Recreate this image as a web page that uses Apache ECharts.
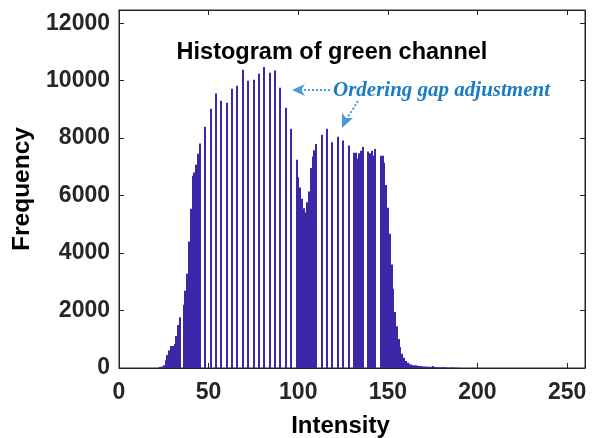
<!DOCTYPE html>
<html>
<head>
<meta charset="utf-8">
<script src="https://cdn.jsdelivr.net/npm/echarts@6/dist/echarts.min.js"></script>
<style>
html,body{margin:0;padding:0;background:#fff;}
#chart{width:595px;height:438px;}
</style>
</head>
<body>
<div id="chart"></div>
<script>
// Intensity values (bins) and their frequencies
const intensity = [];
for (let v = 20; v <= 190; v++) intensity.push(v);
const frequency = [
  0, 0, 15, 35, 50, 100, 270, 450, 610, 765,      // 20-29
  765, 835, 1110, 1500, 1770, 0, 2200, 2690, 3280, 4400, // 30-39
  5545, 6690, 6800, 7075, 7460, 7810, 0, 0, 8400, 0,   // 40-49
  0, 9025, 0, 0, 9550, 0, 0, 9300, 0, 0,               // 50-59
  9235, 0, 0, 9720, 0, 0, 9825, 0, 0, 10380,           // 60-69
  0, 0, 10000, 0, 0, 10035, 0, 0, 10240, 0,            // 70-79
  0, 10480, 0, 0, 10280, 0, 0, 10350, 0, 0,            // 80-89
  9750, 0, 0, 9055, 0, 0, 8330, 0, 0, 7250,            // 90-99
  6635, 6280, 5890, 5560, 5415, 5765, 6140, 6960, 7360, 7580, // 100-109
  7800, 0, 0, 8120, 0, 0, 8330, 0, 0, 7855,            // 110-119
  0, 0, 8050, 0, 0, 7915, 0, 0, 7740, 0,               // 120-129
  0, 7490, 7490, 7290, 7470, 7560, 7690, 0, 0, 7535,   // 130-139
  7475, 7560, 7390, 7625, 0, 0, 7390, 7390, 7140, 6370, // 140-149
  5575, 4670, 3600, 2755, 1950, 1450, 1010, 735, 500, 355, // 150-159
  240, 180, 145, 120, 100, 95, 90, 70, 70, 65,         // 160-169
  55, 50, 45, 45, 40, 70, 35, 30, 28, 26,              // 170-179
  25, 24, 22, 20, 20, 18, 18, 15, 12, 10,              // 180-189
  0                                                    // 190
];
const xTicks = [0, 50, 100, 150, 200, 250];
const yTicks = [0, 2000, 4000, 6000, 8000, 10000, 12000];
const titleText = 'Histogram of green channel';
const noteText = 'Ordering gap adjustment';

const seriesData = intensity.map((v, i) => [v, frequency[i]]);
const axisColor = '#262626';
const barColor = '#3E26A8';
const labelFont = { fontFamily: 'Liberation Sans', fontWeight: 'bold', fontSize: 23, color: axisColor };

const chart = echarts.init(document.getElementById('chart'), null, { renderer: 'canvas' });
chart.setOption({
  animation: false,
  backgroundColor: '#ffffff',
  grid: { left: 119, right: 10, top: 10, bottom: 70, containLabel: false, outerBoundsMode: 'none',
          show: true, borderColor: axisColor, borderWidth: 1, backgroundColor: 'transparent' },
  xAxis: [{
    type: 'value', min: 0, max: 260, interval: 50,
    name: 'Intensity', nameLocation: 'middle', nameGap: 46,
    nameTextStyle: { fontFamily: 'Liberation Sans', fontWeight: 'bold', fontSize: 24, color: '#000', padding: [0, 23, 0, 0] },
    axisLine: { show: true, onZero: false, lineStyle: { color: axisColor, width: 1 } },
    axisTick: { show: true, inside: true, length: 5, lineStyle: { color: axisColor } },
    axisLabel: Object.assign({ margin: 13, showMaxLabel: false,
      formatter: v => xTicks.includes(v) ? String(v) : '' }, labelFont),
    splitLine: { show: false }
  }, {
    type: 'value', min: 0, max: 260, interval: 50, position: 'top',
    axisLine: { show: true, onZero: false, lineStyle: { color: axisColor, width: 1 } },
    axisTick: { show: true, inside: true, length: 5, lineStyle: { color: axisColor } },
    axisLabel: { show: false }, splitLine: { show: false }
  }],
  yAxis: [{
    type: 'value', min: 0, max: 12460, interval: 2000,
    name: 'Frequency', nameLocation: 'middle', nameGap: 78,
    nameTextStyle: { fontFamily: 'Liberation Sans', fontWeight: 'bold', fontSize: 24.5, color: '#000' },
    axisLine: { show: true, onZero: false, lineStyle: { color: axisColor, width: 1 } },
    axisTick: { show: true, inside: true, length: 5, lineStyle: { color: axisColor } },
    axisLabel: Object.assign({ margin: 9, showMaxLabel: false,
      formatter: v => yTicks.includes(v) ? String(v) : '' }, labelFont),
    splitLine: { show: false }
  }, {
    type: 'value', min: 0, max: 12460, interval: 2000, position: 'right',
    axisLine: { show: true, onZero: false, lineStyle: { color: axisColor, width: 1 } },
    axisTick: { show: true, inside: true, length: 5, lineStyle: { color: axisColor } },
    axisLabel: { show: false }, splitLine: { show: false }
  }],
  title: {
    text: titleText, left: 327, top: 36, textAlign: 'center',
    textStyle: { fontFamily: 'Liberation Sans', fontWeight: 'bold', fontSize: 23.5, color: '#000' }
  },
  series: [{
    type: 'custom',
    data: seriesData,
    xAxisIndex: 0, yAxisIndex: 0,
    encode: { x: 0, y: 1 },
    renderItem: function (params, api) {
      const v = api.value(0), f = api.value(1);
      if (!f) return null;
      const pTop = api.coord([v - 0.5, f]);
      const pBot = api.coord([v + 0.5, 0]);
      const x0 = Math.round(pTop[0]);
      const x1 = Math.max(Math.round(pBot[0]), x0 + 2);
      return {
        type: 'rect',
        shape: { x: x0, y: pTop[1], width: x1 - x0, height: pBot[1] - pTop[1] },
        style: { fill: barColor }
      };
    }
  }],
  graphic: [
    { type: 'text', left: 333, top: 80,
      style: { text: noteText, fill: '#1B7CC4', font: 'italic bold 21px "Liberation Serif"' } },
    { type: 'line', shape: { x1: 330, y1: 90, x2: 300, y2: 90 },
      style: { stroke: '#4A9ADA', lineWidth: 2, lineDash: [2, 2] } },
    { type: 'polygon', shape: { points: [[292, 90], [305, 84], [301, 90], [305, 96]] },
      style: { fill: '#4A9ADA' } },
    { type: 'line', shape: { x1: 358, y1: 101, x2: 348, y2: 117 },
      style: { stroke: '#4A9ADA', lineWidth: 2, lineDash: [2, 2] } },
    { type: 'polygon', shape: { points: [[342, 128], [342, 113], [346, 118], [353, 118]] },
      style: { fill: '#4A9ADA' } }
  ]
});
</script>
</body>
</html>
